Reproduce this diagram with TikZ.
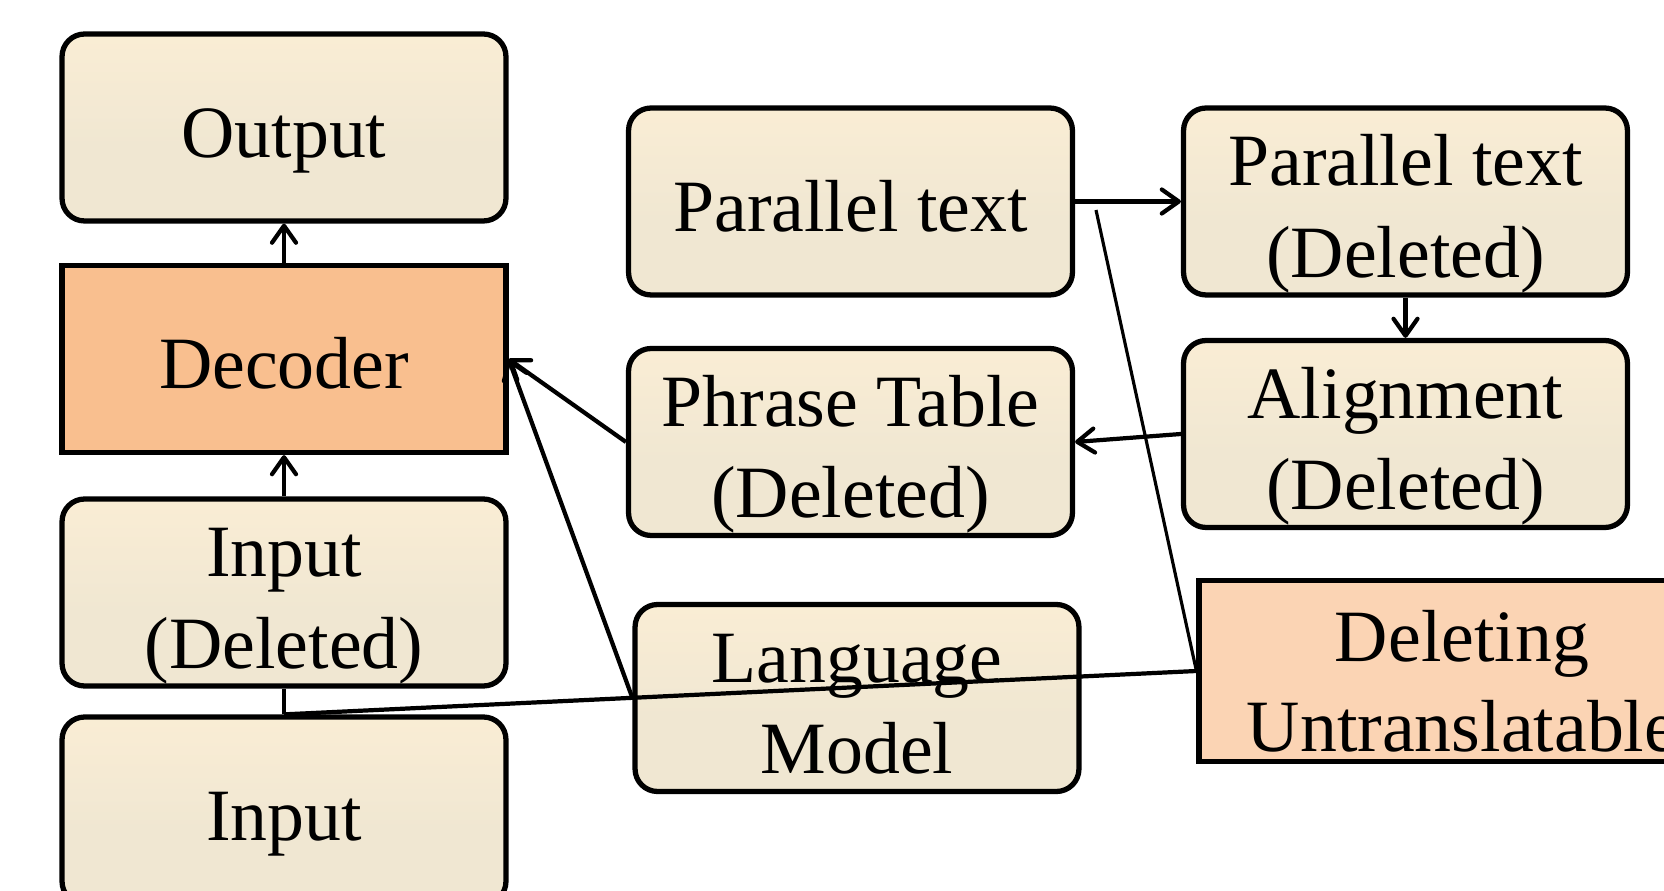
\documentclass[tikz,border=0pt]{standalone}
\usepackage{fontspec}
\setmainfont{Liberation Serif}
\usepackage{tikz}
\usetikzlibrary{positioning}
\usetikzlibrary{arrows.meta}
\definecolor{cream}{HTML}{FDEFD5}
\definecolor{creammid}{HTML}{F0E7D2}
\definecolor{tan}{HTML}{D3C4A3}
\definecolor{decoder}{HTML}{F9BF8F}
\definecolor{deleting}{HTML}{FBD4B4}
\pgfdeclareverticalshading{boxshade}{100bp}{color(0bp)=(tan); color(22bp)=(creammid); color(45bp)=(creammid); color(85bp)=(cream); color(100bp)=(cream)}
\tikzset{
  block/.style={draw=black,line width=3pt,rounded corners=0.45cm,shading=boxshade,
    minimum width=8.88cm,minimum height=3.74cm,inner sep=0pt,align=center,
    font=\fontsize{42}{52}\selectfont,text height=42pt,text depth=8pt},
  flat/.style={draw=black,line width=3pt,inner sep=0pt,align=center,
    font=\fontsize{42}{52}\selectfont,text height=42pt,text depth=8pt},
  twoline/.style={text height=94pt},
  link/.style={line width=2.4pt,-{Straight Barb[length=3.4mm,width=4.8mm,round]}}
}

\begin{document}
\begin{tikzpicture}[x=0.02cm,y=-0.02cm]
    \useasboundingbox (0,0) rectangle (1664,891);
    \begin{scope}
    \clip (0,0) rectangle (1664,891);
    \node[block] (Output) at (284,127.5) {Output};
    \node[flat,fill=decoder,minimum width=8.88cm,minimum height=3.74cm] (Decoder) at (284,359) {Decoder};
    \node[block,twoline] (In_D) at (284,592.5) {Input\\(Deleted)};
    \node[block] (In) at (284,810.5) {Input};

    \node[block] (PT) at (850.5,201.5) {Parallel text};
    \node[block,twoline] (PT_D) at (1405.5,201.5) {Parallel text\\(Deleted)};
    \node[block,twoline] (Phr_D) at (850.5,442) {Phrase Table\\(Deleted)};
    \node[block,twoline] (Al_D) at (1405.5,434) {Alignment\\(Deleted)};
    \node[block,twoline] (LM) at (857,698) {Language\\Model};
    \node[flat,fill=deleting,minimum width=10.52cm,minimum height=3.62cm,
      font=\fontsize{42}{51}\selectfont,text height=96pt,text depth=4.5pt] (Del) at (1462,671) {Deleting\\Untranslatable};

    \coordinate (PT_tap) at (1096,210);

    \draw [link] (Decoder) -- (Output);
    \draw [link] (In_D) -- (Decoder);
    \draw [line width=2.4pt] (In.north) -- (In_D.south);
    \draw [line width=2.4pt] (In.north) -- (Del.west);

    \draw [link] (PT.east) -- (PT_D.west);
    \draw [line width=1.8pt] (PT_tap) -- (Del.west);
    \draw [link] (PT_D) -- (Al_D);
    \draw [link] (Al_D.west) -- (Phr_D.east);
    \draw [link] (Phr_D.west) -- (Decoder.east);
    \draw [link] (LM.west) -- (Decoder.east);
    \end{scope}
\end{tikzpicture}
\end{document}
